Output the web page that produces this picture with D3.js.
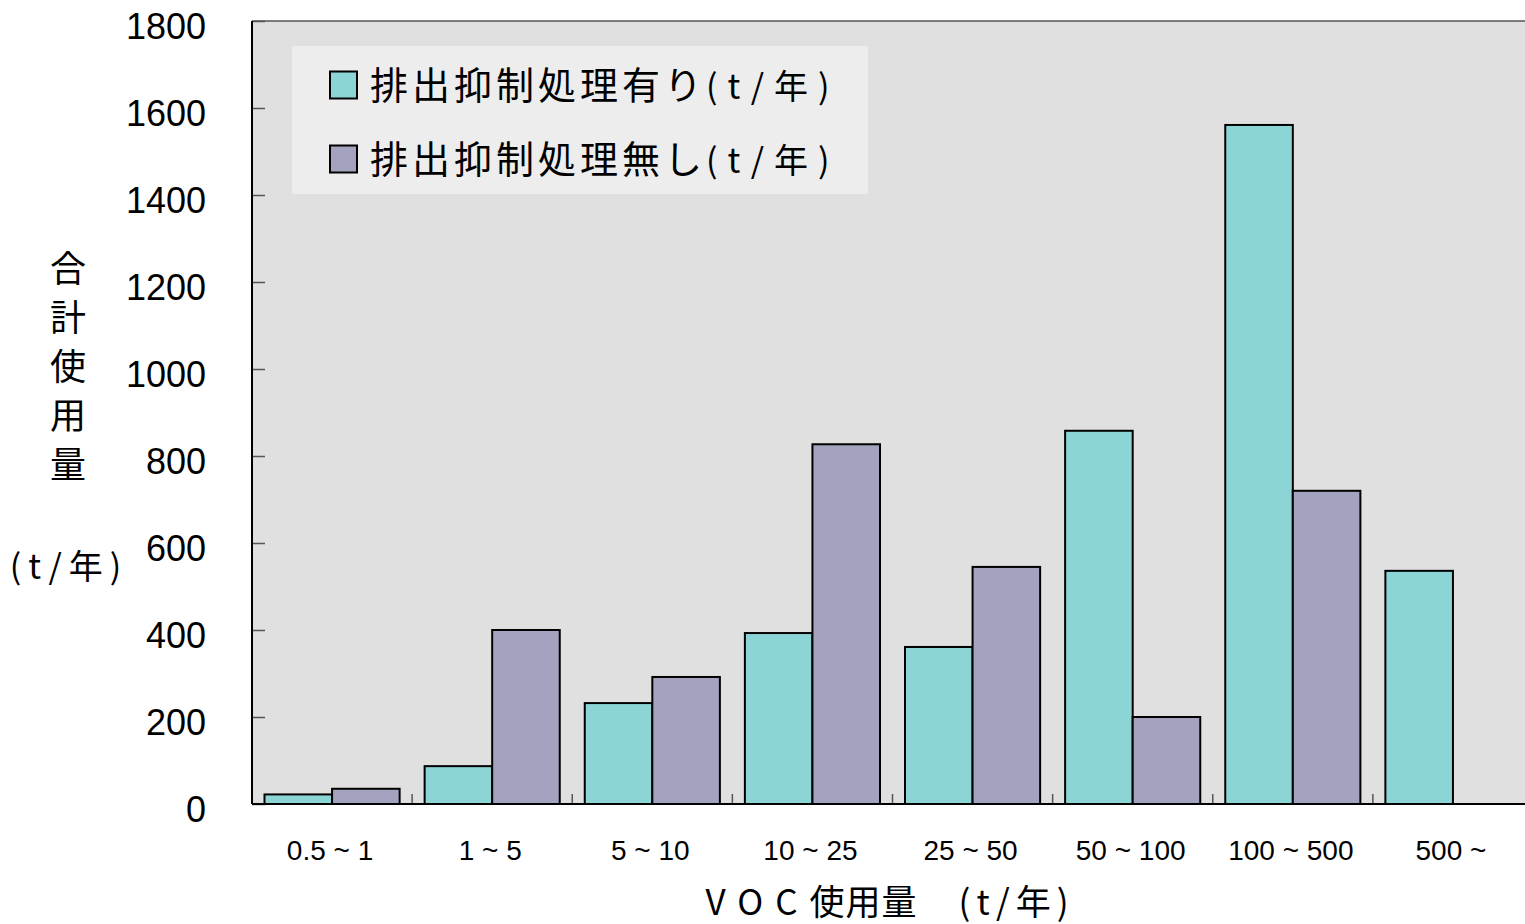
<!DOCTYPE html>
<html>
<head>
<meta charset="utf-8">
<script src="https://cdn.jsdelivr.net/npm/d3@7"></script>
<style>
  html, body { margin: 0; padding: 0; background: #ffffff; }
  svg { display: block; }
  .num { font-family: "Liberation Sans", Arial, sans-serif; fill: #000; }
  .jp { font-family: "Noto Sans CJK JP", "Noto Sans", sans-serif; fill: #000; }
</style>
</head>
<body>
<svg id="chart" width="1525" height="924"></svg>
<script>
// VOC usage bands (t/year)
const categories = ["0.5 ~ 1", "1 ~ 5", "5 ~ 10", "10 ~ 25", "25 ~ 50", "50 ~ 100", "100 ~ 500", "500 ~"];
// Total usage of plants with emission control (t/year)
const withControl = [22, 87, 232, 393, 361, 858, 1561, 536];
// Total usage of plants without emission control (t/year)
const withoutControl = [35, 400, 292, 827, 545, 200, 720, null];
const seriesNames = ["排出抑制処理有り", "排出抑制処理無し"];
const seriesColors = ["#8BD5D7", "#A3A3BF"];
const yTicks = [0, 200, 400, 600, 800, 1000, 1200, 1400, 1600, 1800];

const svg = d3.select("#chart");

const plot = { left: 252, top: 21, bottom: 804, right: 1533 };

const x0 = d3.scaleBand().domain(categories).range([plot.left, plot.right]).padding(0);
const x1 = d3.scaleBand().domain([0, 1]).range([12.5, x0.bandwidth() - 12.5]).padding(0);
const y = d3.scaleLinear().domain([0, 1800]).range([plot.bottom, plot.top]);

// plot background
svg.append("rect")
  .attr("x", plot.left).attr("y", plot.top)
  .attr("width", plot.right - plot.left).attr("height", plot.bottom - plot.top)
  .attr("fill", "#E0E0E0");

// top frame line
svg.append("line")
  .attr("x1", plot.left).attr("x2", plot.right)
  .attr("y1", plot.top).attr("y2", plot.top)
  .attr("stroke", "#555").attr("stroke-width", 1.5);

// bars
const rows = categories.map((c, i) => ({ cat: c, vals: [withControl[i], withoutControl[i]] }));
const groups = svg.append("g").selectAll("g")
  .data(rows).join("g")
  .attr("transform", d => `translate(${x0(d.cat)},0)`);

groups.selectAll("rect")
  .data(d => d.vals.map((v, k) => ({ k, v })).filter(e => e.v != null))
  .join("rect")
  .attr("x", e => x1(e.k))
  .attr("width", x1.bandwidth())
  .attr("y", e => y(e.v))
  .attr("height", e => y(0) - y(e.v))
  .attr("fill", e => seriesColors[e.k])
  .attr("stroke", "#000")
  .attr("stroke-width", 2);

// y axis (ticks point inward)
const yAxis = d3.axisRight(y).tickValues(yTicks).tickSize(13).tickFormat("");
const gy = svg.append("g").attr("transform", `translate(${plot.left},0)`).call(yAxis);
gy.select(".domain").remove();
gy.selectAll(".tick line").attr("stroke", "#555").attr("stroke-width", 1.5);

svg.append("g").selectAll("text")
  .data(yTicks).join("text")
  .attr("class", "num")
  .attr("x", 206)
  .attr("y", d => y(d) + 5)
  .attr("dy", "0.35em")
  .attr("text-anchor", "end")
  .attr("font-size", 36)
  .text(d => d);

// x axis: boundary ticks pointing up into the plot
const bounds = categories.slice(1).map(c => x0(c));
svg.append("g").selectAll("line")
  .data(bounds).join("line")
  .attr("x1", d => d).attr("x2", d => d)
  .attr("y1", plot.bottom).attr("y2", plot.bottom - 10)
  .attr("stroke", "#555").attr("stroke-width", 1.5);

svg.append("line")
  .attr("x1", plot.left).attr("x2", plot.right)
  .attr("y1", plot.bottom).attr("y2", plot.bottom)
  .attr("stroke", "#000").attr("stroke-width", 2);
svg.append("line")
  .attr("x1", plot.left).attr("x2", plot.left)
  .attr("y1", plot.top).attr("y2", plot.bottom)
  .attr("stroke", "#000").attr("stroke-width", 2);

svg.append("g").selectAll("text")
  .data(categories).join("text")
  .attr("class", "num")
  .attr("x", d => x0(d) + x0.bandwidth() / 2 - 2)
  .attr("y", 850)
  .attr("dy", "0.35em")
  .attr("text-anchor", "middle")
  .attr("font-size", 28)
  .text(d => d);

// legend
const legend = svg.append("g");
legend.append("rect")
  .attr("x", 292).attr("y", 46).attr("width", 576).attr("height", 148)
  .attr("fill", "#EDEDED");
seriesNames.forEach((name, k) => {
  const cy = 85 + k * 74;
  legend.append("rect")
    .attr("x", 330).attr("y", cy - 13.5).attr("width", 27).attr("height", 27)
    .attr("fill", seriesColors[k]).attr("stroke", "#000").attr("stroke-width", 2);
  const t = legend.append("text")
    .attr("class", "jp")
    .attr("x", 370).attr("y", cy)
    .attr("dy", "0.36em")
    .attr("font-size", 38);
  t.append("tspan").attr("letter-spacing", 4).text(name);
  t.append("tspan").attr("font-size", 34).attr("letter-spacing", 10).text("(t/年)");
});

// y axis title, stacked vertically
const yTitle = ["合", "計", "使", "用", "量"];
svg.append("g").selectAll("text")
  .data(yTitle).join("text")
  .attr("class", "jp")
  .attr("x", 68)
  .attr("y", (d, i) => 269 + i * 49)
  .attr("dy", "0.36em")
  .attr("text-anchor", "middle")
  .attr("font-size", 36)
  .text(d => d);
svg.append("text")
  .attr("class", "jp")
  .attr("x", 69).attr("y", 567)
  .attr("dy", "0.36em")
  .attr("text-anchor", "middle")
  .attr("font-size", 34)
  .attr("letter-spacing", 7)
  .text("(t/年)");

// x axis title
const xt = svg.append("text")
  .attr("class", "jp")
  .attr("x", 890).attr("y", 902)
  .attr("dy", "0.36em")
  .attr("text-anchor", "middle")
  .attr("font-size", 35);
xt.append("tspan").attr("letter-spacing", 12).text("VOC");
xt.append("tspan").attr("letter-spacing", 1).text("使用量");
xt.append("tspan").attr("letter-spacing", 6).text("　(t/年)");
</script>
</body>
</html>
